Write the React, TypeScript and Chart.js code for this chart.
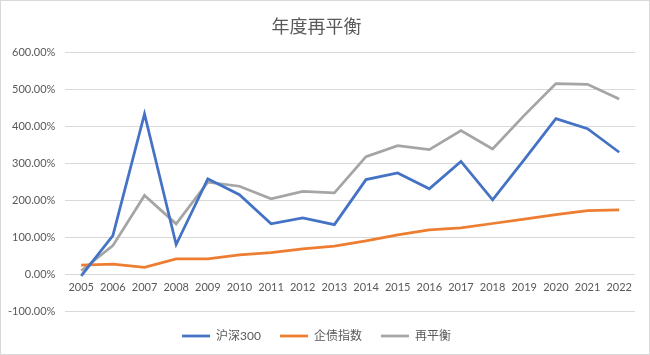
import React, { useEffect, useRef } from "react";
import { Chart, registerables } from "chart.js";

Chart.register(...registerables);

const years = ["2005","2006","2007","2008","2009","2010","2011","2012","2013","2014","2015","2016","2017","2018","2019","2020","2021","2022"];
const hs300 = [-5, 104, 434, 80, 258, 215, 136, 152, 134, 256, 274, 231, 305, 201, 310, 421, 394, 330];
const bondIndex = [24, 27, 18, 41, 41, 52, 58, 68, 76, 90, 106, 120, 125, 137, 149, 161, 172, 174];
const rebalance = [9, 77, 213, 136, 249, 238, 204, 224, 220, 318, 348, 337, 389, 339, 430, 516, 514, 474];
const seriesNames = ["沪深300", "企债指数", "再平衡"];
const titleText = "年度再平衡";

const FONT = "Lato, 'Noto Sans CJK SC', sans-serif";
const CJK = "'Noto Sans CJK SC', sans-serif";

export default function App() {
  const ref = useRef<HTMLCanvasElement>(null);
  useEffect(() => {
    document.body.style.margin = "0";
    const ctx = ref.current!;
    const chart = new Chart(ctx, {
      type: "line",
      data: {
        labels: years,
        datasets: [
          { label: seriesNames[0], data: hs300, borderColor: "#4472C4", backgroundColor: "#4472C4", borderWidth: 2.75, pointRadius: 0, tension: 0 },
          { label: seriesNames[1], data: bondIndex, borderColor: "#ED7D31", backgroundColor: "#ED7D31", borderWidth: 2.75, pointRadius: 0, tension: 0 },
          { label: seriesNames[2], data: rebalance, borderColor: "#A5A5A5", backgroundColor: "#A5A5A5", borderWidth: 2.75, pointRadius: 0, tension: 0 },
        ],
      },
      options: {
        animation: false,
        responsive: false,
        layout: { padding: { left: -3, right: 14, top: 14, bottom: 2 } },
        plugins: {
          title: {
            display: true,
            text: titleText,
            color: "#595959",
            font: { family: CJK, size: 18, weight: "normal" },
            padding: { top: 0, bottom: 16 },
          },
          legend: {
            position: "bottom",
            labels: {
              usePointStyle: true,
              pointStyle: "line",
              pointStyleWidth: 28,
              color: "#595959",
              font: { family: FONT, size: 12 },
              padding: 19,
            },
          },
          tooltip: { enabled: false },
        },
        scales: {
          x: {
            offset: true,
            position: { y: 0 } as any,
            grid: { display: false, drawTicks: false, offset: true },
            border: { display: false },
            ticks: { color: "#595959", font: { family: FONT, size: 11 }, padding: 7, maxRotation: 0, autoSkip: false },
          },
          y: {
            min: -100,
            max: 600,
            grid: { color: "#D9D9D9", lineWidth: 1, drawTicks: false },
            border: { display: false },
            ticks: {
              stepSize: 100,
              color: "#595959",
              font: { family: FONT, size: 11 },
              padding: 10,
              callback: (v: any) => Number(v).toFixed(2) + "%",
            },
          },
        },
      },
    });
    return () => chart.destroy();
  }, []);
  return (
    <div style={{ width: 650, height: 355, boxSizing: "border-box", border: "1px solid #D9D9D9", background: "#fff" }}>
      <canvas ref={ref} width={648} height={353} style={{ display: "block" }} />
    </div>
  );
}
